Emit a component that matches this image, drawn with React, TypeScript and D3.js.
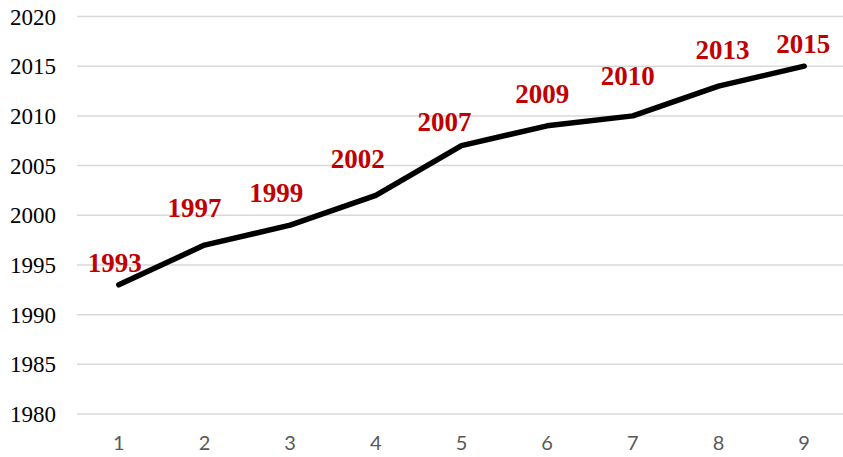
import React, { useEffect, useRef } from "react";
import * as d3 from "d3";

// data
const categories = ["1", "2", "3", "4", "5", "6", "7", "8", "9"];
const years = [1993, 1997, 1999, 2002, 2007, 2009, 2010, 2013, 2015];
const yTicks = [1980, 1985, 1990, 1995, 2000, 2005, 2010, 2015, 2020];

// hand placed data labels (dx, dy from the point), like in the original
const labelShift: [number, number][] = [
  [-4, -13], [-10, -28], [-14, -23], [-18, -27], [-17, -15],
  [-5, -23], [-5, -31], [4, -27], [-1, -13],
];

function App() {
  const ref = useRef<SVGSVGElement>(null);

  useEffect(() => {
    const width = 843;
    const height = 457;
    const svg = d3.select(ref.current);
    svg.selectAll("*").remove();

    const x = d3.scalePoint<string>().domain(categories).range([76, 847]).padding(0.5);
    const y = d3.scaleLinear().domain([1980, 2020]).range([414, 16.5]);

    // gridlines
    svg.append("g")
      .selectAll("line")
      .data(yTicks)
      .join("line")
      .attr("x1", 77)
      .attr("x2", width)
      .attr("y1", d => y(d))
      .attr("y2", d => y(d))
      .attr("stroke", "#d9d9d9")
      .attr("stroke-width", 1.5);

    // y labels
    svg.append("g")
      .attr("font-family", "Liberation Serif, Times New Roman, serif")
      .attr("font-size", 23)
      .attr("fill", "#000")
      .selectAll("text")
      .data(yTicks)
      .join("text")
      .attr("x", 56)
      .attr("y", d => y(d))
      .attr("dy", "0.35em")
      .attr("text-anchor", "end")
      .text(d => d);

    // x labels
    svg.append("g")
      .attr("font-family", "Lato, sans-serif")
      .attr("font-size", 20)
      .attr("fill", "#595959")
      .selectAll("text")
      .data(categories)
      .join("text")
      .attr("x", d => x(d)!)
      .attr("y", 450)
      .attr("text-anchor", "middle")
      .text(d => d);

    const line = d3.line<number>()
      .x((_, i) => x(categories[i])!)
      .y(d => y(d));

    svg.append("path")
      .datum(years)
      .attr("d", line)
      .attr("fill", "none")
      .attr("stroke", "#000")
      .attr("stroke-width", 5.5)
      .attr("stroke-linecap", "round")
      .attr("stroke-linejoin", "round");

    // data labels
    svg.append("g")
      .attr("font-family", "Liberation Serif, Times New Roman, serif")
      .attr("font-size", 27)
      .attr("font-weight", "bold")
      .attr("fill", "#c00000")
      .selectAll("text")
      .data(years)
      .join("text")
      .attr("x", (d, i) => x(categories[i])! + labelShift[i][0])
      .attr("y", (d, i) => y(d) + labelShift[i][1])
      .attr("text-anchor", "middle")
      .text(d => d);

    svg.attr("height", height);
  }, []);

  return (
    <svg
      ref={ref}
      width={843}
      height={457}
      style={{ position: "absolute", left: 0, top: 0, background: "#fff" }}
    />
  );
}

export default App;
